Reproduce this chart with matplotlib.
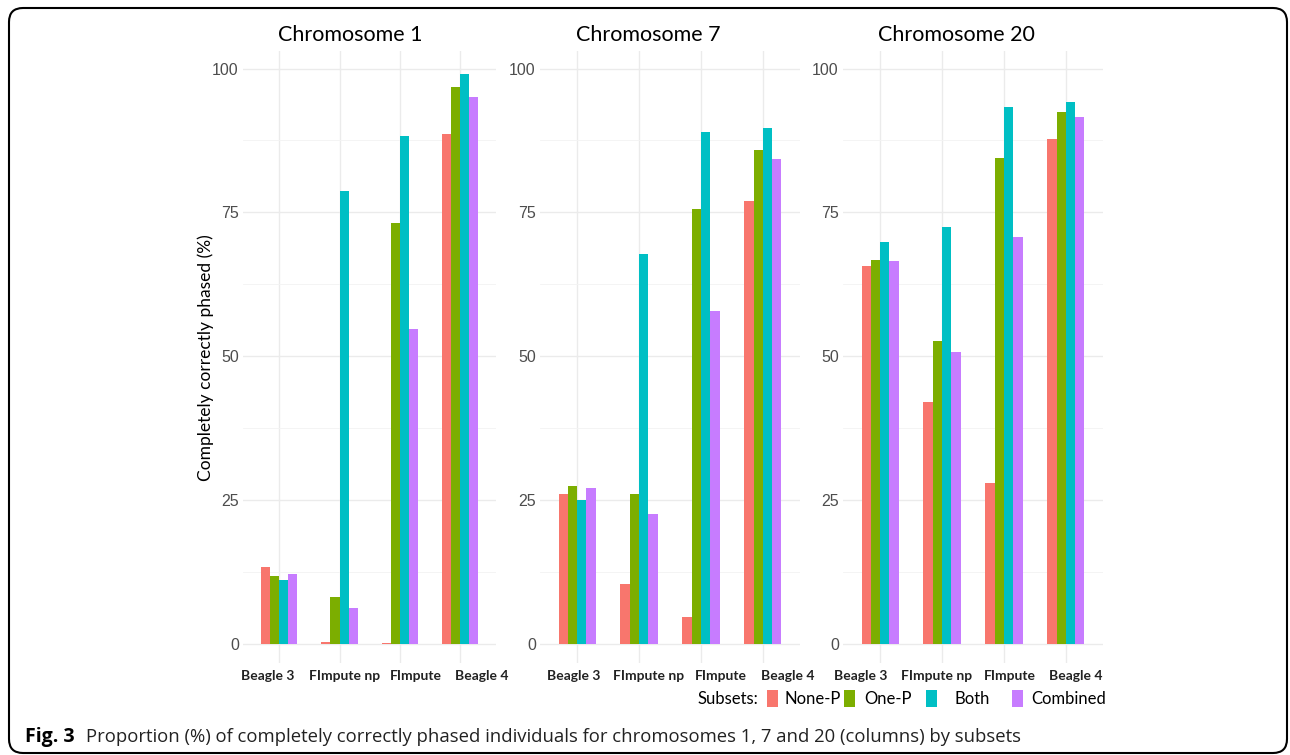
import matplotlib
matplotlib.use("Agg")
import matplotlib.pyplot as plt
from matplotlib.patches import FancyBboxPatch, Rectangle
from matplotlib.transforms import IdentityTransform, ScaledTranslation
import numpy as np

methods = ["Beagle 3", "FImpute np", "FImpute", "Beagle 4"]
subsets = ["None-P", "One-P", "Both", "Combined"]
colors = ["#F8766D", "#7CAE00", "#00BFC4", "#C77CFF"]
titles = ["Chromosome 1", "Chromosome 7", "Chromosome 20"]

# values per chromosome (one list per subset, ordered as methods)
chr1_none = [13.3, 0.3, 0.2, 88.6]
chr1_one = [11.8, 8.2, 73.1, 96.8]
chr1_both = [11.2, 78.7, 88.2, 99.0]
chr1_comb = [12.2, 6.3, 54.7, 95.1]

chr7_none = [26.0, 10.5, 4.7, 77.0]
chr7_one = [27.4, 26.0, 75.6, 85.9]
chr7_both = [25.0, 67.7, 88.9, 89.6]
chr7_comb = [27.1, 22.6, 57.8, 84.2]

chr20_none = [65.7, 42.0, 27.9, 87.8]
chr20_one = [66.8, 52.7, 84.4, 92.5]
chr20_both = [69.9, 72.4, 93.3, 94.1]
chr20_comb = [66.5, 50.7, 70.8, 91.5]

data = [
    [chr1_none, chr1_one, chr1_both, chr1_comb],
    [chr7_none, chr7_one, chr7_both, chr7_comb],
    [chr20_none, chr20_one, chr20_both, chr20_comb],
]

yticks = [0, 25, 50, 75, 100]

# ---------------- layout (pixels) ----------------
W, H = 1290, 755
panels_px = [(243, 496.4), (540, 800), (843, 1103)]
top_px, bot_px = 50.7, 663
title_x = [350, 648, 956]
# horizontal shift of each category label (px) relative to its tick
label_shift = [[-11.3, 4.7, 16.2, 21.9],
               [-3, 9.5, 19.5, 25],
               [-19.5, -5.5, 6, 9.5]]

fig = plt.figure(figsize=(W / 100, H / 100), dpi=100)
fig.patch.set_facecolor("white")

x = np.arange(len(methods))
bw = 0.15
offsets = (np.arange(4) - 1.5) * bw

for i, (l, r) in enumerate(panels_px):
    ax = fig.add_axes([l / W, (H - bot_px) / H, (r - l) / W, (bot_px - top_px) / H])
    ax.set_facecolor("white")
    for j in range(4):
        ax.bar(x + offsets[j], data[i][j], width=bw, color=colors[j], zorder=3,
               label=subsets[j])
    ax.set_xlim(-0.6, 3.6)
    ax.set_ylim(-3.3, 103.1)
    ax.set_yticks(yticks)
    ax.set_yticks([12.5, 37.5, 62.5, 87.5], minor=True)
    ax.set_xticks(x)
    ax.set_xticklabels(methods, fontfamily="Lato", fontweight="bold", fontsize=10,
                       color="#222222")
    ax.set_yticklabels([str(t) for t in yticks], fontfamily="Liberation Sans",
                       fontsize=11.5, color="#4D4D4D")
    ax.tick_params(axis="both", which="both", length=0)
    ax.tick_params(axis="y", pad=3)
    ax.tick_params(axis="x", pad=5)
    for k, lab in enumerate(ax.get_xticklabels()):
        lab.set_transform(lab.get_transform() +
                          ScaledTranslation(label_shift[i][k] / 100, 0, fig.dpi_scale_trans))
    ax.grid(True, which="major", color="#EBEBEB", linewidth=1.0, zorder=0)
    ax.grid(True, which="minor", axis="y", color="#F3F3F3", linewidth=0.6, zorder=0)
    for s in ax.spines.values():
        s.set_visible(False)
    fig.text(title_x[i] / W, 1 - 35 / H, titles[i], fontfamily="Lato", fontsize=15.5,
             ha="center", va="center", color="black")
    if i == 0:
        ax.set_ylabel("Completely correctly phased (%)", fontfamily="Lato",
                      fontsize=12.5, color="black")
        ax.yaxis.set_label_coords((206 - l) / (r - l), (bot_px - 358) / (bot_px - top_px))
        ax.yaxis.label.set_verticalalignment("center")

# legend (ggplot-style, bottom right)
leg_y = 699
fig.text(697 / W, 1 - leg_y / H, "Subsets:", fontfamily="Lato", fontsize=12,
         ha="left", va="center", color="black")
box_x = [767, 844, 926, 1012]
text_x = [785, 864, 955, 1031]
for c, bx, tx, name in zip(colors, box_x, text_x, subsets):
    fig.add_artist(Rectangle((bx, H - 707), 11, 17, transform=IdentityTransform(),
                             facecolor=c, edgecolor="none"))
    fig.text(tx / W, 1 - leg_y / H, name, fontfamily="Lato", fontsize=12,
             ha="left", va="center", color="black")

# caption
fig.text(25 / W, 1 - 737 / H, "Fig. 3", fontfamily="Open Sans", fontweight="bold",
         fontsize=14, ha="left", va="center")
fig.text(86 / W, 1 - 737 / H,
         "Proportion (%) of completely correctly phased individuals for chromosomes 1, 7 and 20 (columns) by subsets",
         fontfamily="Open Sans", fontsize=13.3, ha="left", va="center", color="#222222")

# rounded border
border = FancyBboxPatch((9, 2), 1278, H - 8 - 2,
                        boxstyle="round,pad=0,rounding_size=14",
                        transform=IdentityTransform(), facecolor="none",
                        edgecolor="black", linewidth=1.5)
fig.add_artist(border)

fig.savefig("out.png", dpi=100, facecolor="white")
